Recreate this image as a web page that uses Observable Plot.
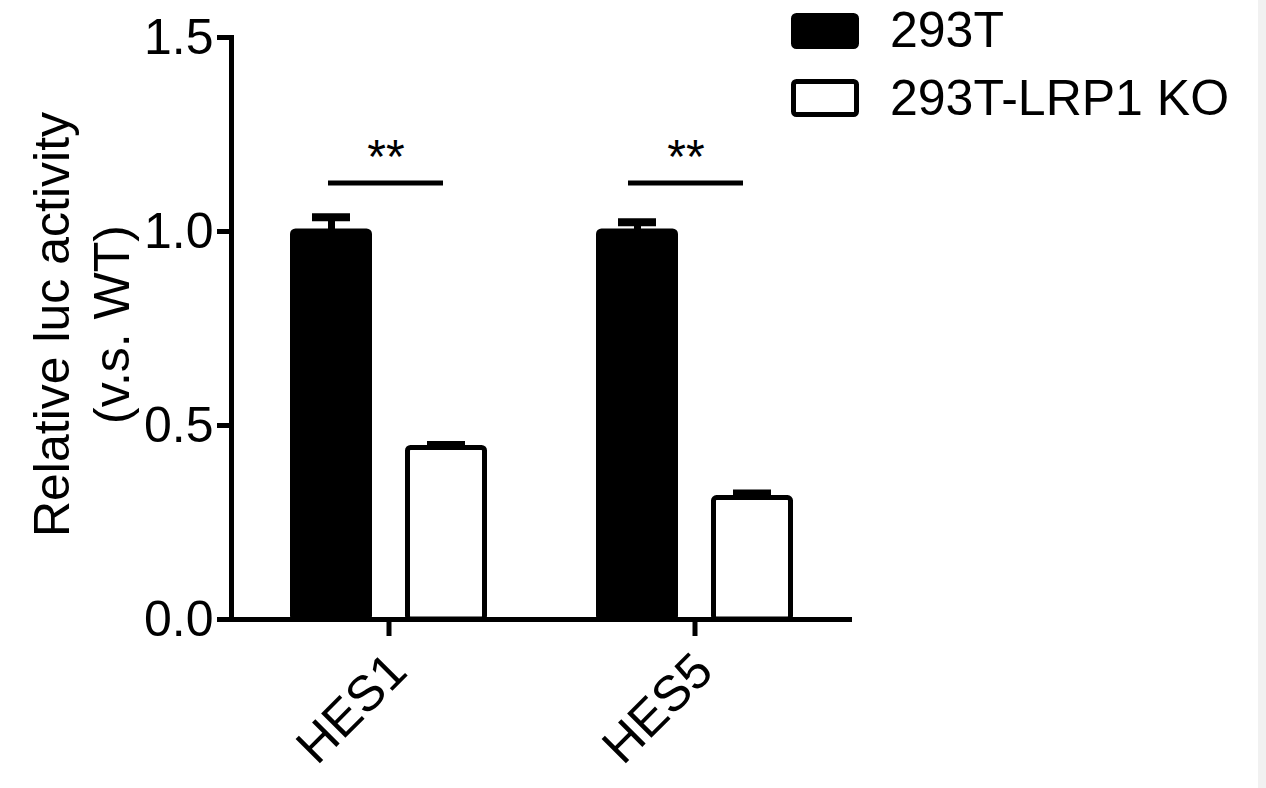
<!DOCTYPE html>
<html>
<head>
<meta charset="utf-8">
<script src="https://cdn.jsdelivr.net/npm/d3@7"></script>
<script src="https://cdn.jsdelivr.net/npm/@observablehq/plot@0.6"></script>
<style>
  html, body { margin: 0; padding: 0; background: #fff; }
  #wrap { position: relative; width: 1266px; height: 788px; overflow: hidden; font-family: "Liberation Sans", Arial, sans-serif; }
  #strip { position: absolute; left: 1258px; top: 0; width: 8px; height: 788px; background: #f1f1f1; }
  #legend { position: absolute; left: 0; top: 0; }
</style>
</head>
<body>
<div id="wrap"><div id="strip"></div></div>
<script>
const genes = ["HES1", "HES5"];
const series = ["293T", "293T-LRP1 KO"];
const mean293T = [1.0, 1.0];
const err293T = [0.037, 0.024];
const meanKO = [0.442, 0.313];
const errKO = [0.009, 0.013];
const sigY = [1.125, 1.125];
const sigLabels = ["**", "**"];
const yTicks = [0, 0.5, 1.0, 1.5];
const yLabel = "Relative luc activity\n(v.s. WT)";

const wt = genes.map((g, i) => ({gene: g, mean: mean293T[i], err: err293T[i]}));
const ko = genes.map((g, i) => ({gene: g, mean: meanKO[i], err: errKO[i]}));
const sig = genes.map((g, i) => ({gene: g, y: sigY[i], label: sigLabels[i]}));

const off = 57.5;
const sigShift = [-3, -9];
const font = "'Liberation Sans', Arial, sans-serif";

const sigMarks = sig.flatMap((s, i) => [
  Plot.tickY([s], {x: "gene", y: "y", stroke: "#000", strokeWidth: 5, dx: sigShift[i]}),
  Plot.text([s], {x: "gene", y: "y", text: "label", fontSize: 48, dy: -25, dx: sigShift[i], fill: "#000"})
]);

const chart = Plot.plot({
  width: 1266,
  height: 788,
  marginLeft: 231,
  marginRight: 414,
  marginTop: 37,
  marginBottom: 169,
  style: {fontFamily: font, color: "#000", background: "transparent"},
  x: {domain: genes, paddingInner: 0.625, paddingOuter: 0.324, axis: null},
  y: {domain: [0, 1.5], axis: null, label: null},
  marks: [
    Plot.barY(wt, {x: "gene", y: "mean", dx: -off, fill: "#000", stroke: "#000", strokeWidth: 5, insetLeft: 19, insetRight: 19, rx: 3}),
    Plot.barY(ko, {x: "gene", y: "mean", dx: off, fill: "#fff", stroke: "#000", strokeWidth: 5, insetLeft: 19, insetRight: 19, rx: 3}),
    Plot.ruleX(wt, {x: "gene", y1: "mean", y2: d => d.mean + d.err, dx: -off, stroke: "#000", strokeWidth: 7}),
    Plot.tickY(wt, {x: "gene", y: d => d.mean + d.err, dx: -off, stroke: "#000", strokeWidth: 8, insetLeft: 38.5, insetRight: 38.5}),
    Plot.ruleX(ko, {x: "gene", y1: "mean", y2: d => d.mean + d.err, dx: off, stroke: "#000", strokeWidth: 7}),
    Plot.tickY(ko, {x: "gene", y: d => d.mean + d.err, dx: off, stroke: "#000", strokeWidth: 7, insetLeft: 38.5, insetRight: 38.5}),
    ...sigMarks,
    Plot.frame({anchor: "left", stroke: "#000", strokeWidth: 5}),
    Plot.ruleY([0], {stroke: "#000", strokeWidth: 5}),
    Plot.axisY({ticks: yTicks, tickFormat: d3.format(".1f"), tickSize: 14, tickPadding: 4, fontSize: 50, strokeWidth: 5, label: null, fill: "#000"}),
    Plot.axisX({tickSize: 17, strokeWidth: 5, tickFormat: () => "", label: null}),
    Plot.text(genes, {x: d => d, frameAnchor: "bottom", text: d => d, rotate: -45, textAnchor: "end", lineAnchor: "middle", dx: 9, dy: 43, fontSize: 50, fill: "#000"}),
    Plot.text([yLabel], {frameAnchor: "left", text: d => d, rotate: -90, textAnchor: "middle", lineAnchor: "middle", lineHeight: 1.2, dx: -152, dy: -4, fontSize: 50, fill: "#000"})
  ]
});

const wrap = document.getElementById("wrap");
wrap.insertBefore(chart, wrap.firstChild);

// legend overlay
const ns = "http://www.w3.org/2000/svg";
const leg = document.createElementNS(ns, "svg");
leg.setAttribute("id", "legend");
leg.setAttribute("width", 1266);
leg.setAttribute("height", 140);
const rows = [
  {fill: "#000", y: 13, h: 36, base: 47},
  {fill: "#fff", y: 79, h: 38, base: 115}
];
rows.forEach((r, i) => {
  const rect = document.createElementNS(ns, "rect");
  rect.setAttribute("x", 793.5);
  rect.setAttribute("y", r.y + 2.5);
  rect.setAttribute("width", 63);
  rect.setAttribute("height", r.h - 5);
  rect.setAttribute("rx", 3);
  rect.setAttribute("fill", r.fill);
  rect.setAttribute("stroke", "#000");
  rect.setAttribute("stroke-width", 5);
  leg.appendChild(rect);
  const t = document.createElementNS(ns, "text");
  t.setAttribute("x", 890);
  t.setAttribute("y", r.base);
  t.setAttribute("font-size", 50);
  t.setAttribute("font-family", font);
  t.setAttribute("fill", "#000");
  t.textContent = series[i];
  leg.appendChild(t);
});
wrap.appendChild(leg);
</script>
</body>
</html>
